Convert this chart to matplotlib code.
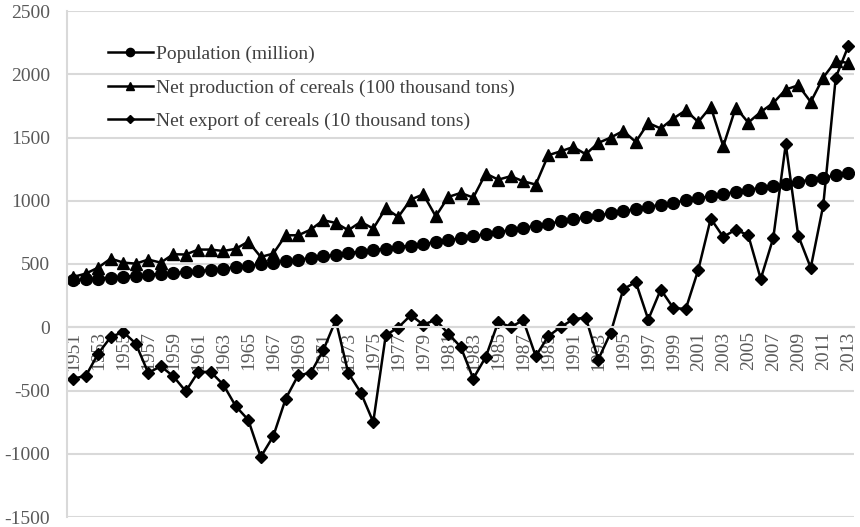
import matplotlib
matplotlib.use("Agg")
import matplotlib.pyplot as plt

plt.rcParams['font.family'] = ['Liberation Serif', 'DejaVu Serif']
plt.rcParams['axes.unicode_minus'] = False

# Data
years = list(range(1951, 2014))

population = [371, 378, 385, 393, 400, 407, 415, 422, 429, 436,
              443, 452, 462, 474, 486, 498, 510, 522, 534, 547,
              560, 573, 586, 598, 610, 622, 634, 646, 658, 672,
              688, 704, 720, 736, 752, 768, 785, 802, 819, 836,
              852, 868, 884, 900, 917, 934, 951, 968, 985, 1002,
              1019, 1036, 1053, 1070, 1086, 1102, 1118, 1134, 1150, 1166,
              1182, 1200, 1220]

production = [398, 424, 472, 543, 511, 503, 535, 511, 577, 575,
              614, 614, 603, 620, 677, 556, 582, 727, 727, 772,
              846, 825, 767, 833, 780, 940, 872, 1009, 1051, 877,
              1030, 1062, 1025, 1215, 1167, 1194, 1154, 1128, 1360, 1391,
              1425, 1368, 1457, 1500, 1552, 1465, 1615, 1571, 1650, 1715,
              1623, 1742, 1431, 1737, 1618, 1702, 1773, 1879, 1913, 1781,
              1974, 2105, 2089]

export = [-406, -385, -208, -77, -37, -129, -361, -308, -387, -506,
          -353, -353, -453, -624, -732, -1025, -862, -564, -379, -361,
          -182, 55, -361, -516, -749, -63, -2, 95, 21, 58,
          -50, -156, -406, -235, 42, 2, 55, -229, -71, 2,
          63, 77, -255, -42, 300, 358, 61, 298, 153, 144,
          453, 859, 714, 772, 727, 382, 705, 1447, 724, 470,
          964, 1974, 2221]

labels = ['Population (million)',
          'Net production of cereals (100 thousand tons)',
          'Net export of cereals (10 thousand tons)']

grid_color = '#d9d9d9'
text_color = '#595959'

fig = plt.figure(figsize=(8.6, 5.27), dpi=100)
ax = fig.add_axes([67 / 860, 1 - 517 / 527, (854.5 - 67) / 860, 506 / 527])

x = list(range(len(years)))
ax.plot(x, population, color='black', lw=1.8, marker='o', ms=8.5, label=labels[0])
ax.plot(x, production, color='black', lw=1.8, marker='^', ms=9, label=labels[1])
ax.plot(x, export, color='black', lw=1.8, marker='D', ms=6.5, label=labels[2])

# spines first: set_position resets the ticks
for s in ['top', 'right']:
    ax.spines[s].set_visible(False)
ax.spines['left'].set_color(grid_color)
ax.spines['left'].set_linewidth(1.5)
ax.spines['bottom'].set_position(('data', 0))
ax.spines['bottom'].set_color(grid_color)
ax.spines['bottom'].set_linewidth(1.5)

ax.set_xlim(-0.5, len(years) - 0.5)
ax.set_ylim(-1500, 2500)
ax.set_yticks(range(-1500, 2501, 500))
ax.yaxis.grid(True, color=grid_color, lw=1.5)
ax.set_axisbelow(True)

ax.set_xticks(x[::2])
ax.set_xticklabels([str(y) for y in years[::2]], rotation=90)

ax.tick_params(axis='both', length=0, labelsize=14, colors=text_color)
ax.tick_params(axis='x', pad=3)
ax.tick_params(axis='y', pad=12)

ax.legend(loc='upper left', bbox_to_anchor=(0.052, 0.932), frameon=False,
          fontsize=14, handlelength=2.3, handletextpad=0.15,
          labelspacing=0.8, markerscale=0.7, labelcolor='#404040',
          borderpad=0, borderaxespad=0)

fig.savefig('out.png', dpi=100)
